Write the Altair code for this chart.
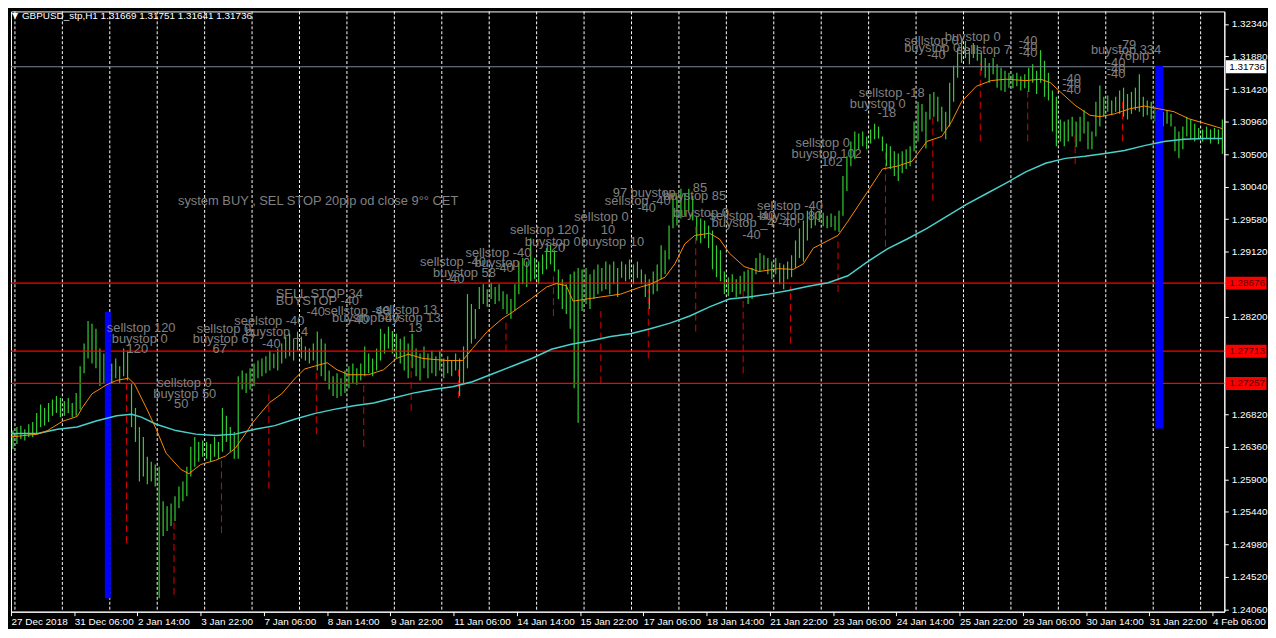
import altair as alt
import pandas as pd

# ---------------- data (prices stored as 1.xxxx -> xxxx) ----------------
date_labels = ["27 Dec 2018", "31 Dec 06:00", "2 Jan 14:00", "3 Jan 22:00", "7 Jan 06:00",
               "8 Jan 14:00", "9 Jan 22:00", "11 Jan 06:00", "14 Jan 14:00", "15 Jan 22:00",
               "17 Jan 06:00", "18 Jan 14:00", "21 Jan 22:00", "23 Jan 06:00", "24 Jan 14:00",
               "25 Jan 22:00", "29 Jan 06:00", "30 Jan 14:00", "31 Jan 22:00", "4 Feb 06:00"]
hours_per_label = 32
price_ticks = [1.2406, 1.2452, 1.2498, 1.2544, 1.2590, 1.2636, 1.2682, 1.2820, 1.2912,
               1.2958, 1.3004, 1.3050, 1.3096, 1.3142, 1.3188, 1.3234]

# two-hour bars: highs and lows
bar_high = [
    2659, 2664, 2666, 2661, 2668, 2671, 2684, 2696, 2691, 2698,
    2703, 2708, 2705, 2701, 2705, 2698, 2712, 2750, 2782, 2814,
    2810, 2803, 2775, 2768, 2758, 2754, 2761, 2750, 2775, 2772,
    2726, 2691, 2664, 2650, 2622, 2615, 2611, 2608, 2559, 2552,
    2556, 2566, 2580, 2587, 2608, 2636, 2650, 2643, 2645, 2643,
    2640, 2650, 2643, 2691, 2680, 2664, 2657, 2736, 2744, 2740,
    2747, 2754, 2758, 2761, 2764, 2772, 2768, 2775, 2782, 2792,
    2796, 2789, 2799, 2792, 2778, 2775, 2782, 2799, 2789, 2782,
    2744, 2736, 2740, 2733, 2744, 2750, 2754, 2747, 2754, 2778,
    2768, 2761, 2775, 2803, 2796, 2806, 2800, 2796, 2789, 2792,
    2782, 2796, 2775, 2768, 2778, 2768, 2772, 2764, 2772, 2761,
    2764, 2758, 2768, 2761, 2778, 2852, 2838, 2831, 2862, 2866,
    2859, 2868, 2862, 2866, 2856, 2852, 2845, 2866, 2898, 2903,
    2898, 2931, 2903, 2898, 2908, 2917, 2921, 2914, 2887, 2873,
    2866, 2880, 2884, 2889, 2887, 2889, 2880, 2887, 2894, 2889,
    2898, 2894, 2898, 2889, 2898, 2894, 2901, 2894, 2898, 2887,
    2880, 2873, 2884, 2894, 2921, 2914, 2949, 2995, 2991, 3001,
    2995, 3001, 2991, 2963, 2959, 2956, 2949, 2942, 2921, 2914,
    2884, 2876, 2880, 2873, 2878, 2884, 2887, 2889, 2903, 2910,
    2907, 2903, 2898, 2903, 2896, 2894, 2898, 2907, 2928, 2945,
    2956, 2970, 2973, 2967, 2970, 2967, 2963, 2966, 2963, 2970,
    3019, 3047, 3068, 3082, 3079, 3082, 3075, 3085, 3093, 3089,
    3075, 3065, 3061, 3054, 3051, 3054, 3057, 3061, 3096, 3124,
    3121, 3110, 3135, 3138, 3131, 3117, 3110, 3151, 3175, 3200,
    3214, 3210, 3200, 3207, 3204, 3193, 3186, 3179, 3186, 3177,
    3172, 3168, 3165, 3163, 3165, 3160, 3163, 3172, 3177, 3168,
    3197, 3182, 3165, 3140, 3131, 3099, 3096, 3099, 3103, 3096,
    3103, 3112, 3096, 3082, 3124, 3147, 3131, 3133, 3126, 3131,
    3140, 3144, 3135, 3138, 3144, 3163, 3131, 3126, 3124, 3117,
    3112, 3110, 3112, 3107, 3089, 3082, 3089, 3103, 3099, 3093,
    3087, 3085, 3089, 3085, 3087, 3085, 3099]
bar_low = [
    2633, 2640, 2647, 2645, 2650, 2650, 2654, 2664, 2666, 2671,
    2680, 2684, 2678, 2680, 2684, 2678, 2680, 2689, 2740, 2761,
    2754, 2747, 2722, 2726, 2730, 2726, 2733, 2726, 2736, 2730,
    2664, 2643, 2587, 2594, 2583, 2587, 2580, 2422, 2510, 2517,
    2524, 2531, 2549, 2559, 2566, 2594, 2608, 2615, 2622, 2619,
    2615, 2622, 2619, 2629, 2643, 2629, 2619, 2619, 2717, 2712,
    2717, 2722, 2733, 2736, 2740, 2744, 2747, 2744, 2754, 2761,
    2764, 2758, 2772, 2761, 2758, 2754, 2758, 2744, 2736, 2729,
    2717, 2708, 2705, 2708, 2712, 2719, 2726, 2724, 2730, 2736,
    2740, 2736, 2744, 2758, 2768, 2775, 2768, 2761, 2754, 2744,
    2733, 2747, 2736, 2730, 2747, 2733, 2740, 2736, 2744, 2733,
    2740, 2736, 2744, 2708, 2726, 2747, 2782, 2789, 2831, 2838,
    2834, 2845, 2838, 2842, 2831, 2824, 2817, 2828, 2852, 2866,
    2862, 2870, 2873, 2866, 2880, 2887, 2894, 2884, 2845, 2831,
    2824, 2803, 2719, 2670, 2828, 2838, 2831, 2845, 2852, 2856,
    2859, 2852, 2866, 2848, 2875, 2870, 2873, 2866, 2875, 2866,
    2848, 2831, 2852, 2856, 2873, 2880, 2901, 2945, 2949, 2959,
    2963, 2970, 2956, 2928, 2924, 2931, 2917, 2887, 2876, 2870,
    2852, 2849, 2855, 2848, 2852, 2856, 2838, 2845, 2880, 2884,
    2887, 2880, 2873, 2880, 2866, 2859, 2873, 2876, 2889, 2903,
    2898, 2928, 2945, 2949, 2954, 2948, 2945, 2947, 2942, 2940,
    2963, 2998, 3033, 3043, 3057, 3061, 3057, 3065, 3071, 3072,
    3054, 3033, 3029, 3019, 3012, 3023, 3029, 3033, 3054, 3068,
    3082, 3058, 3099, 3103, 3096, 3082, 3071, 3089, 3124, 3158,
    3179, 3186, 3177, 3186, 3182, 3168, 3158, 3151, 3163, 3144,
    3140, 3138, 3144, 3143, 3146, 3140, 3143, 3138, 3151, 3135,
    3151, 3131, 3126, 3082, 3061, 3068, 3061, 3068, 3075, 3060,
    3068, 3079, 3057, 3057, 3075, 3089, 3103, 3110, 3105, 3110,
    3107, 3103, 3099, 3107, 3112, 3110, 3103, 3105, 3099, 3096,
    3079, 3089, 3093, 3089, 3054, 3044, 3057, 3075, 3071, 3068,
    3071, 3068, 3072, 3065, 3071, 3064, 3050]

fast_ma_idx = [0, 13.5, 18.5, 26, 33.5, 36, 41, 48.5, 53.5, 59.5, 62.5, 68.5, 73.5, 78.5, 86, 90, 96,
               103.5, 108.5, 113.5, 118.5, 122.5, 131, 137, 143.5, 148.5, 153.5, 160, 165, 171, 181,
               188.5, 195, 201, 208.5, 221, 228.5, 233.5, 241, 248.5, 253.5, 263.5, 271, 276, 281,
               284.5, 291, 298.5, 308.5, 318.5, 323.5, 331, 336, 341, 346, 353.5, 358.5, 363.5, 371,
               378.5, 388.5, 396, 401, 406, 418.5, 423.5, 433.5, 441, 448.5, 456, 463.5, 471, 476,
               481, 488.5, 496, 503.5, 513.5, 521, 526, 531, 538.5, 546, 551, 558.5, 566, 573.5,
               581, 588.5, 596, 603.5, 613]
fast_ma_val = [2650, 2654, 2659, 2672, 2679, 2691, 2711, 2724, 2730, 2733, 2725, 2691, 2661, 2627,
               2604, 2598, 2611, 2617, 2623, 2634, 2654, 2671, 2699, 2711, 2732, 2746, 2750, 2755,
               2745, 2738, 2738, 2745, 2761, 2767, 2761, 2758, 2758, 2775, 2799, 2817, 2826, 2846,
               2862, 2867, 2864, 2842, 2845, 2848, 2852, 2862, 2866, 2876, 2895, 2923, 2935, 2938,
               2930, 2910, 2891, 2884, 2888, 2887, 2895, 2917, 2935, 2955, 2997, 3029, 3033, 3040,
               3068, 3075, 3096, 3124, 3146, 3154, 3156, 3154, 3156, 3151, 3138, 3119, 3105, 3103,
               3107, 3114, 3118, 3114, 3110, 3100, 3094, 3086]
slow_ma_idx = [0, 13.5, 23.5, 33.5, 43.5, 53.5, 61, 66, 73.5, 83.5, 93.5, 103.5, 113.5, 123.5, 133.5,
               143.5, 153.5, 163.5, 173.5, 183.5, 193.5, 203.5, 213.5, 223.5, 233.5, 243.5, 253.5,
               263.5, 273.5, 283.5, 293.5, 303.5, 313.5, 323.5, 333.5, 343.5, 353.5, 363.5, 373.5,
               383.5, 393.5, 403.5, 413.5, 423.5, 433.5, 443.5, 453.5, 463.5, 473.5, 483.5, 493.5,
               503.5, 513.5, 523.5, 533.5, 543.5, 553.5, 563.5, 573.5, 583.5, 593.5, 603.5, 613]
slow_ma_val = [2655, 2655, 2661, 2664, 2673, 2680, 2682, 2678, 2668, 2659, 2654, 2652, 2654, 2661,
               2666, 2675, 2683, 2689, 2694, 2698, 2705, 2712, 2717, 2721, 2728, 2739, 2750, 2761,
               2774, 2781, 2786, 2792, 2796, 2803, 2811, 2821, 2834, 2845, 2848, 2852, 2857, 2863,
               2868, 2878, 2898, 2916, 2930, 2945, 2962, 2979, 2994, 3009, 3025, 3037, 3044, 3047,
               3051, 3055, 3062, 3068, 3071, 3072, 3072]

signal_idx = [58.5, 82.5, 106.5, 130.5, 154.5, 178.5, 202.5, 226.5, 250.5, 274.5, 298.5,
              322.5, 346.5, 370.5, 394.5, 418.5, 442.5, 466.5, 490.5, 514.5, 538.5, 562.5]
signal_top = [2733, 2534, 2617, 2717, 2747, 2724, 2779, 2751, 2817, 2882, 2828,
              2859, 2952, 2863, 2863, 2928, 3058, 3105, 3179, 3142, 3082, 3124]
signal_bot = [2500, 2427, 2514, 2577, 2654, 2636, 2687, 2705, 2771, 2821, 2726,
              2761, 2799, 2740, 2782, 2855, 2919, 2984, 3068, 3068, 3036, 3068]

day_start_idx = [2, 26, 50, 74, 98, 122, 146, 170, 194, 218, 242, 266, 290, 314, 338, 362,
                 386, 410, 434, 458, 482, 506, 530, 554, 578, 602]

blue_start = [47.5, 579]
blue_end = [50.5, 583]
blue_top = [2827, 3175]
blue_bot = [2422, 2662]

level_price = [1.31736, 1.28676, 1.27713, 1.27257]
level_line = ["#778899", "#FF0000", "#FF0000", "#FF0000"]
level_box = ["#FFFFFF", "#FF0000", "#FF0000", "#FF0000"]
level_text = ["#000000", "#5a0000", "#5a0000", "#5a0000"]

ann_text = ["system BUY , SEL STOP 20pip od close 9°° CET",
            "sellstop  120", "buystop  0", "120", "sellstop  0", "buystop  50", "50",
            "sellstop  0", "buystop  67", "67", "seelstop -40", "buystop _4", "-40",
            "SELL STOP 34", "BUYSTOP -40", "-40", "sellstop -40", "buystop -40", "-40",
            "sellstop 13", "buystop 13", "13", "sellstop -40", "buystop 58", "-40",
            "sellstop -40", "buystop 0", "-40", "sellstop 120", "buystop 0", "120",
            "sellstop 0", "10", "buystop 10", "97 buystop", "sellstop -40", "-40", "85",
            "buystop 85", "buystop 0", "sellstop -40", "buystop _4 -40", "-40",
            "sellstop -40", "buystop 80", "sellstop 0", "buystop 102", "102",
            "sellstop -18", "buystop 0", "-18", "sellstop 0", "buystop 0", "buystop 0",
            "sellstop 7", "-40", "-40", "-40", "-40", "-40", "-40", "-40",
            "-79", "buystop 334", "76pip", "-40", "-40", "-40"]
ann_idx = [84.5,
           48.5, 51, 58.5, 74, 72, 82.5,
           94, 92, 102, 113, 118.5, 127,
           134, 134, 149.5, 158.5, 162.5, 171.5,
           184.5, 185.5, 201, 207, 213.5, 220,
           230, 234.5, 245, 252.5, 260, 269.5,
           285, 298.5, 288.5, 304.5, 300.5, 317, 345,
           330, 335, 353.5, 354.5, 370,
           377.5, 378.5, 397, 395, 410,
           429, 424.5, 438.5, 452, 472.5, 452,
           478.5, 463.5, 510, 510, 510, 532, 532, 532,
           560, 546.5, 560, 554.5, 554.5, 554.5]
ann_price = [2983,
             2804, 2789, 2775, 2726, 2711, 2696,
             2802, 2788, 2775, 2814, 2799, 2781,
             2852, 2842, 2827, 2828, 2818, 2816,
             2829, 2818, 2804, 2898, 2882, 2874,
             2910, 2896, 2889, 2942, 2926, 2917,
             2961, 2942, 2926, 2995, 2984, 2974, 3002,
             2991, 2966, 2963, 2952, 2935,
             2977, 2963, 3066, 3050, 3039,
             3136, 3121, 3108, 3210, 3216, 3200,
             3197, 3190, 3210, 3202, 3193, 3156, 3149, 3140,
             3204, 3197, 3189, 3179, 3171, 3163]

header = "GBPUSD_stp,H1  1.31669 1.31751 1.31641 1.31736"


def px(v):
    return 1 + v / 10000.0


# ---------------- frames ----------------
n = min(len(bar_high), len(bar_low))
bars = pd.DataFrame({"i": [2 * j + 1 for j in range(n)],
                     "hi": [px(v) for v in bar_high[:n]],
                     "lo": [px(v) for v in bar_low[:n]]})
fast = pd.DataFrame({"i": fast_ma_idx, "p": [px(v) for v in fast_ma_val]})
slow = pd.DataFrame({"i": slow_ma_idx, "p": [px(v) for v in slow_ma_val]})
sig = pd.DataFrame({"i": signal_idx, "t": [px(v) for v in signal_top], "b": [px(v) for v in signal_bot]})
days = pd.DataFrame({"i": day_start_idx})
blue = pd.DataFrame({"a": blue_start, "b": blue_end,
                     "t": [px(v) for v in blue_top], "l": [px(v) for v in blue_bot]})
levels = pd.DataFrame({"p": level_price, "line": level_line, "box": level_box, "fg": level_text})
ann = pd.DataFrame({"t": ann_text, "i": ann_idx, "p": [px(v) for v in ann_price]})
head = pd.DataFrame({"t": [header], "m": ["▼"]})

W, H = 1223, 605
xs = alt.Scale(domain=[0, 614], nice=False, zero=False)
ys = alt.Scale(domain=[1.24029, 1.32518], nice=False, zero=False)

label_arr = "[" + ",".join("'%s'" % s for s in date_labels) + "]"
x_axis = alt.Axis(values=[k * hours_per_label for k in range(len(date_labels))],
                  labelExpr=label_arr + "[round(datum.value/%d)]" % hours_per_label,
                  labelAlign="left", labelFlush=False, labelOverlap=False, labelBound=False,
                  tickSize=4, labelPadding=1, title=None, grid=False, domain=True, ticks=True,
                  labels=True, offset=0)
y_axis = alt.Axis(orient="right", values=price_ticks, format=".5f", tickSize=4,
                  labelPadding=3, title=None, grid=False, labelOverlap=False, labelBound=False,
                  domain=True, ticks=True, labels=True, offset=0)

X = lambda f: alt.X(f, scale=xs, axis=x_axis)
Y = lambda f: alt.Y(f, scale=ys, axis=y_axis)

ohlc = alt.Chart(bars).mark_rule(color="#32CD32", strokeWidth=1.2).encode(
    x=X("i:Q"), y=Y("lo:Q"), y2="hi:Q")

grid = alt.Chart(days).mark_rule(color="#FFFFFF", strokeDash=[3, 2], strokeWidth=1).encode(
    x=X("i:Q"))

hlines = alt.Chart(levels).mark_rule(strokeWidth=1.2).encode(
    y=Y("p:Q"), color=alt.Color("line:N", scale=None))

signals = alt.Chart(sig).mark_rule(color="#E00000", strokeDash=[7, 4], strokeWidth=1).encode(
    x=X("i:Q"), y=Y("b:Q"), y2="t:Q")

blue_bars = alt.Chart(blue).mark_rect(color="#0000FF").encode(
    x=X("a:Q"), x2="b:Q", y=Y("l:Q"), y2="t:Q")

slow_line = alt.Chart(slow).mark_line(color="#48D1CC", strokeWidth=1.5).encode(
    x=X("i:Q"), y=Y("p:Q"))
fast_line = alt.Chart(fast).mark_line(color="#FF8C00", strokeWidth=1).encode(
    x=X("i:Q"), y=Y("p:Q"))

notes = alt.Chart(ann).mark_text(align="left", baseline="middle", font="Liberation Sans",
                                 fontSize=13, color="#808080").encode(
    x=X("i:Q"), y=Y("p:Q"), text="t:N")

boxes = alt.Chart(levels).mark_tick(orient="horizontal", size=41, thickness=13, opacity=1).encode(
    x=alt.value(W + 22), y=Y("p:Q"), color=alt.Color("box:N", scale=None))
box_text = alt.Chart(levels).mark_text(align="left", baseline="middle", font="Liberation Sans",
                                       fontSize=10).encode(
    x=alt.value(W + 5), y=Y("p:Q"),
    text=alt.Text("p:Q", format=".5f"), color=alt.Color("fg:N", scale=None))

head_mark = alt.Chart(head).mark_text(align="left", baseline="middle", font="DejaVu Sans",
                                      fontSize=8, color="#FFFFFF").encode(
    x=alt.value(1), y=alt.value(5), text="m:N")
head_text = alt.Chart(head).mark_text(align="left", baseline="middle", font="Liberation Sans",
                                      fontSize=10, color="#FFFFFF").encode(
    x=alt.value(11), y=alt.value(5), text="t:N")

chart = alt.layer(ohlc, grid, hlines, signals, blue_bars, slow_line, fast_line, notes,
                  boxes, box_text, head_mark, head_text).properties(
    width=W, height=H, padding=0, background="#000000"
).configure_view(stroke="#FFFFFF", strokeWidth=1).configure_axis(
    labelColor="#FFFFFF", labelFont="Liberation Sans", labelFontSize=10,
    domainColor="#FFFFFF", tickColor="#FFFFFF", domainWidth=1, tickWidth=1)

chart.save("out.html", embed_options={"renderer": "svg", "actions": False})
